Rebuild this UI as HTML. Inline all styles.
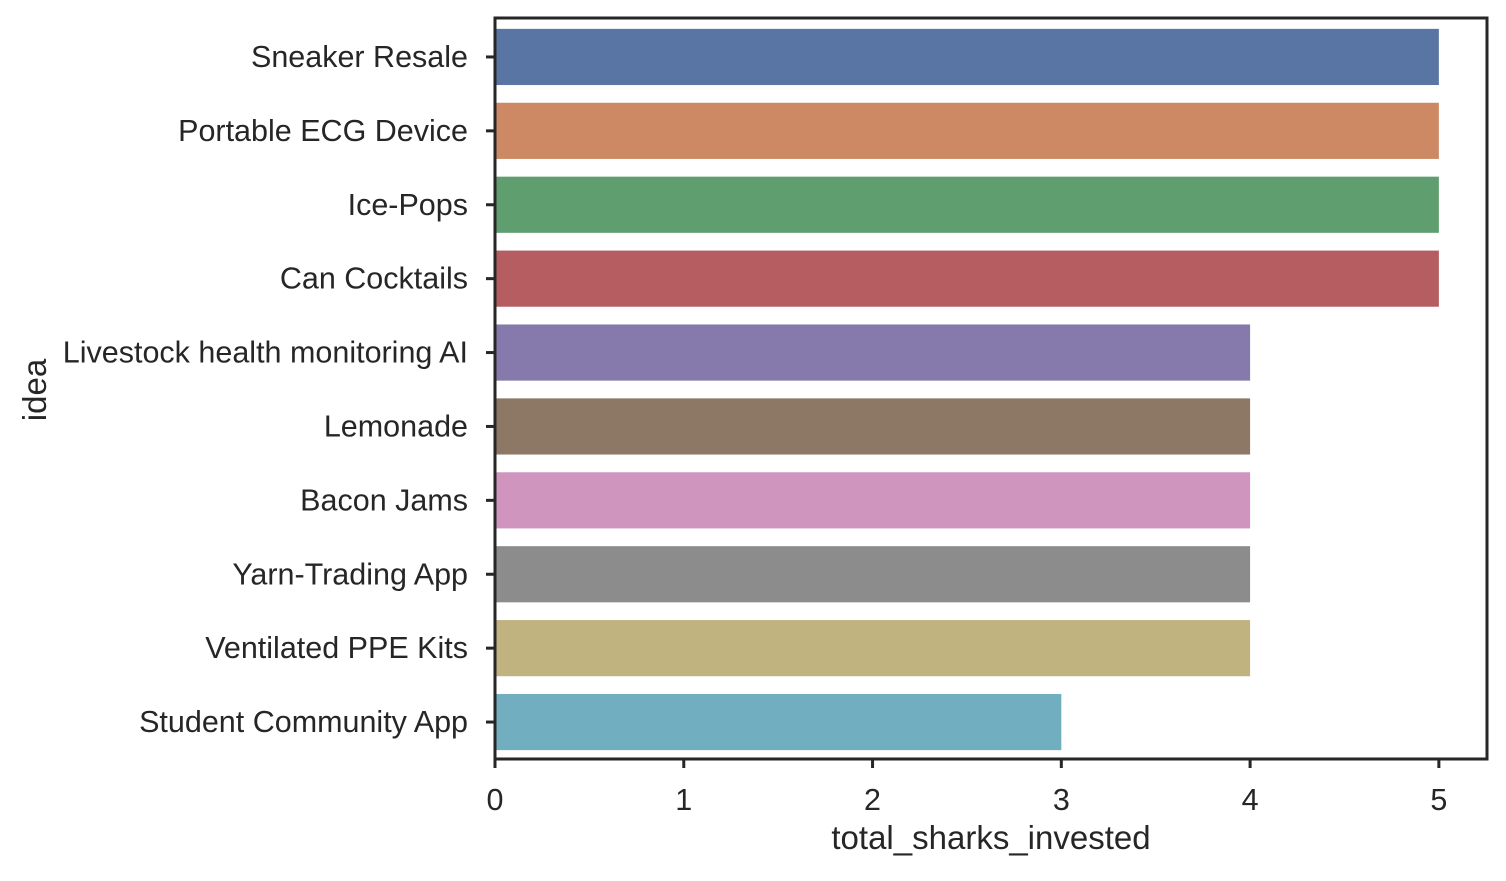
<!DOCTYPE html>
<html><head><meta charset="utf-8"><style>
body{margin:0;background:#fff;}
svg text{font-family:"Liberation Sans",sans-serif;fill:#262626;}
</style></head><body>
<svg id="chart" width="1506" height="876"></svg>
<script>
const categories=["Sneaker Resale","Portable ECG Device","Ice-Pops","Can Cocktails","Livestock health monitoring AI","Lemonade","Bacon Jams","Yarn-Trading App","Ventilated PPE Kits","Student Community App"];
const values=[5,5,5,5,4,4,4,4,4,3];
const xTicks=[0,1,2,3,4,5];
const colors=["#5975a4","#cc8963","#5f9e6e","#b55d60","#857aab","#8d7866","#d095bf","#8c8c8c","#c1b37f","#71aec0"];
const L=495,R=1487,T=20,B=759,xMax=5.255;
const svg=document.getElementById('chart');
const NS="http://www.w3.org/2000/svg";
function x(v){return L+v/xMax*(R-L);}
const band=(B-T)/categories.length;
function yc(i){return T+band*(i+0.5);}
function mk(tag,attrs,parent){const e=document.createElementNS(NS,tag);for(const k in attrs)e.setAttribute(k,attrs[k]);(parent||svg).appendChild(e);return e;}
categories.forEach((c,i)=>{
  const h=band*0.76;
  const r=mk('rect',{x:x(0),y:yc(i)-h/2,width:x(values[i])-x(0),height:h,fill:colors[i]});
  
  
  const t=mk('line',{x1:L-9,x2:L,y1:yc(i),y2:yc(i),stroke:'#262626','stroke-width':3});
  
  
  const lb=mk('text',{x:L-27,y:yc(i)+10,'text-anchor':'end','font-size':'30.5px'});
  lb.textContent=c;
  
  
});
xTicks.forEach(v=>{
  const t=mk('line',{x1:x(v),x2:x(v),y1:B,y2:B+9,stroke:'#262626','stroke-width':3});
  
  
  const lb=mk('text',{x:x(v),y:B+51,'text-anchor':'middle','font-size':'30.5px'});
  lb.textContent=v;
  
  
});
const fr=mk('rect',{x:L,y:18,width:R-L,height:B-18,fill:'none',stroke:'#262626','stroke-width':3});


const xt=mk('text',{x:(L+R)/2,y:849,'text-anchor':'middle','font-size':'33px'});
xt.textContent='total_sharks_invested';


const yt=mk('text',{x:0,y:0,'text-anchor':'middle','font-size':'33px',transform:'translate(46,390) rotate(-90)'});
yt.textContent='idea';


</script>
</body></html>
